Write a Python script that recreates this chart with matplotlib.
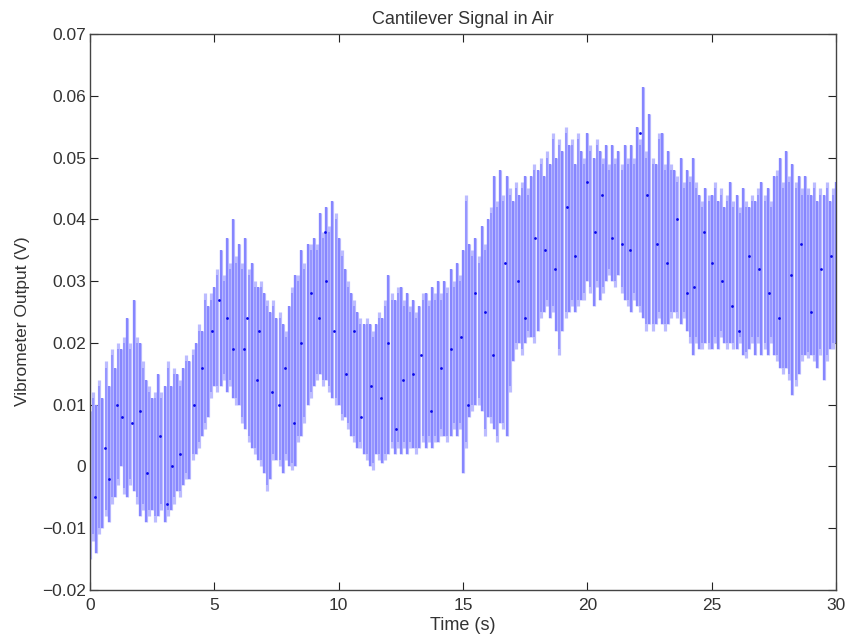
import numpy as np
import matplotlib
matplotlib.use("Agg")
import matplotlib.pyplot as plt

plt.rcParams['font.family'] = ['Liberation Sans', 'DejaVu Sans']

# top and bottom of each oscillation in mV, 8 per second
upper_mv = [
    9, 12, 10, 14, 11, 17, 13, 19,
    16, 20, 19, 21, 24, 20, 27, 21,
    20, 17, 14, 13, 11, 12, 15, 12,
    13, 17, 13, 16, 15, 14, 16, 18,
    17, 19, 20, 23, 22, 28, 26, 28,
    29, 32, 35, 31, 37, 33, 40, 34,
    36, 33, 37, 32, 33, 30, 29, 30,
    28, 27, 25, 27, 24, 25, 23, 22,
    26, 29, 31, 31, 35, 33, 36, 36,
    37, 36, 41, 38, 42, 39, 43, 41,
    37, 35, 32, 30, 28, 27, 25, 24,
    23, 24, 23, 22, 23, 25, 24, 27,
    31, 28, 27, 29, 29, 27, 28, 26,
    27, 25, 26, 28, 28, 27, 29, 28,
    30, 28, 30, 29, 32, 30, 33, 31,
    35, 44, 36, 35, 37, 34, 39, 36,
    40, 42, 47, 43, 48, 44, 47, 45,
    43, 46, 44, 46, 47, 45, 47, 49,
    48, 50, 47, 51, 49, 54, 50, 53,
    51, 55, 52, 53, 49, 54, 51, 50,
    54, 52, 50, 53, 51, 50, 52, 49,
    52, 50, 51, 49, 52, 50, 52, 50,
    55, 53, 61.4, 51, 57, 50, 49, 54,
    54, 49, 51, 49, 48, 47, 50, 46,
    48, 47, 50, 46, 44, 43, 45, 44,
    44, 46, 43, 45, 42, 44, 46, 43,
    44, 42, 45, 43, 42, 44, 43, 45,
    46, 44, 45, 43, 47, 48, 50, 46,
    51, 47, 49, 46, 47, 45, 47, 45,
    44, 46, 43, 45, 44, 46, 43, 45,
    46,
]
lower_mv = [
    -15, -12, -14, -11, -10, -8, -9, -6,
    -5, -3, 0, -4.5, -5, -3, -4, -6,
    -8, -7, -9, -8, -7, -9, -8, -7,
    -9, -8, -7, -6, -4, -5, -3, -2,
    -2, 1, 2, 3, 5, 6, 8, 11,
    13, 12, 13, 14, 12, 13, 11, 10,
    10, 7, 6, 4, 3, 2, 1, 0,
    -1, -4, -2, 1, 1, 0, -1, 1,
    0, -0.5, 0, 4, 5, 7, 10, 11,
    13, 14, 15, 13, 14, 12, 11, 10,
    10, 7.5, 8, 6, 5, 4, 3, 3,
    2, 1, 0, -0.5, 2, 1, 0.5, 1,
    2, 3, 2, 3, 2, 3, 2, 3,
    3, 2, 3, 4, 3, 4, 3, 4,
    4, 5, 5, 4, 5, 6, 5, 6,
    -1, 3, 8, 9, 10, 10, 9, 5,
    8, 7, 6, 4, 7, 6, 5, 12,
    17, 19, 20, 18, 20, 21, 21, 20,
    22, 24, 25, 26, 24, 25, 22, 18,
    22, 24, 25, 26, 25, 26, 27, 27,
    30, 28, 26, 29, 27, 28, 30, 31,
    30, 29, 31, 28, 27, 26, 25, 27,
    26, 25, 24, 22, 23, 22, 23, 24,
    23, 22, 23, 24, 25, 24, 23, 24,
    22, 20, 18, 20, 19, 19, 20, 19,
    19, 20, 19, 21, 20, 19, 20, 19,
    19, 20, 18, 17.5, 19, 20, 18, 20,
    18, 19, 18, 20, 18, 17, 16, 15,
    16, 14, 11.5, 13, 15, 17, 18, 17.5,
    18, 17, 16, 18, 14, 17, 19, 19,
    20,
]

# dark specks where the trace turns over
dot_times = [
    0.2, 0.6, 0.75, 1.07, 1.3, 1.7, 2.0, 2.3, 2.8, 3.1, 3.3, 3.6, 4.2, 4.5,
    4.9, 5.2, 5.5, 5.75, 6.2, 6.3, 6.7, 6.8, 7.3, 7.6, 7.85, 8.2, 8.5, 8.9,
    9.2, 9.45, 9.5, 9.8, 10.3, 10.6, 10.9, 11.3, 11.7, 12.0, 12.3, 12.6,
    13.0, 13.3, 13.7, 14.1, 14.5, 14.9, 15.2, 15.5, 15.9, 16.2, 16.7, 17.2,
    17.5, 17.9, 18.3, 18.7, 19.2, 19.5, 20.0, 20.3, 20.6, 21.0, 21.4, 21.7,
    22.1, 22.4, 22.8, 23.2, 23.6, 24.0, 24.3, 24.7, 25.0, 25.4, 25.8, 26.1,
    26.5, 26.9, 27.3, 27.7, 28.2, 28.6, 29.0, 29.4, 29.8,
]
dot_mv = [
    -5, 3, -2, 10, 8, 7, 9, -1, 5, -6, 0, 2, 10, 16,
    22, 27, 24, 19, 19, 24, 14, 22, 12, 10, 16, 7, 20, 28,
    24, 38, 30, 22, 15, 22, 8, 13, 11, 20, 6, 14,
    15, 18, 9, 16, 19, 21, 10, 28, 25, 18, 33, 30,
    24, 37, 35, 32, 42, 34, 46, 38, 44, 37, 36, 35,
    54, 44, 36, 33, 40, 28, 29, 38, 33, 30, 26, 22,
    34, 32, 28, 24, 31, 36, 25, 32, 34,
]

x_ticks = [0, 5, 10, 15, 20, 25, 30]
y_ticks = [-0.02, -0.01, 0, 0.01, 0.02, 0.03, 0.04, 0.05, 0.06, 0.07]
y_labels = ['\u22120.02', '\u22120.01', '0', '0.01', '0.02', '0.03', '0.04', '0.05', '0.06', '0.07']

lower_v = np.array(lower_mv) / 1000
upper_v = np.array(upper_mv) / 1000
cycle_times = np.linspace(0, 30, len(upper_mv))
text_color = '#333333'

fig = plt.figure(figsize=(8.53, 6.41), dpi=100)
ax = fig.add_axes([90 / 853, 1 - 590 / 641, 746 / 853, 556 / 641])

# near vertical strokes, soft blue between them like the blurred original
ax.vlines(cycle_times, lower_v, upper_v, color='#bcbcff', lw=2.3)
ax.vlines(cycle_times[::2], lower_v[::2], upper_v[::2], color='#8686ff', lw=1.6)
ax.vlines(cycle_times[1::2], lower_v[1::2] + 0.001, upper_v[1::2] - 0.001, color='#9292ff', lw=1.3)
ax.plot(dot_times, np.array(dot_mv) / 1000, ls='none', marker='o', ms=2.0, mew=0, color='#0808e8')

ax.set_xlim(0, 30)
ax.set_ylim(-0.02, 0.07)
ax.set_xticks(x_ticks)
ax.set_yticks(y_ticks)
ax.set_yticklabels(y_labels)
ax.tick_params(direction='in', top=True, right=True, length=6, width=0.8, labelsize=12.5,
               color='#222222', labelcolor=text_color)
ax.tick_params(axis='x', pad=6)
ax.tick_params(axis='y', pad=3)
for spine in ax.spines.values():
    spine.set_color('#444444')
    spine.set_linewidth(1.0)

ax.set_title("Cantilever Signal in Air", fontsize=13, pad=7, color=text_color)
ax.set_xlabel("Time (s)", fontsize=13, labelpad=3, color=text_color)
ax.set_ylabel("Vibrometer Output (V)", fontsize=12.5, color=text_color)
ax.yaxis.set_label_coords(-60 / 746, 269 / 556)

plt.savefig("out.png", dpi=100)
